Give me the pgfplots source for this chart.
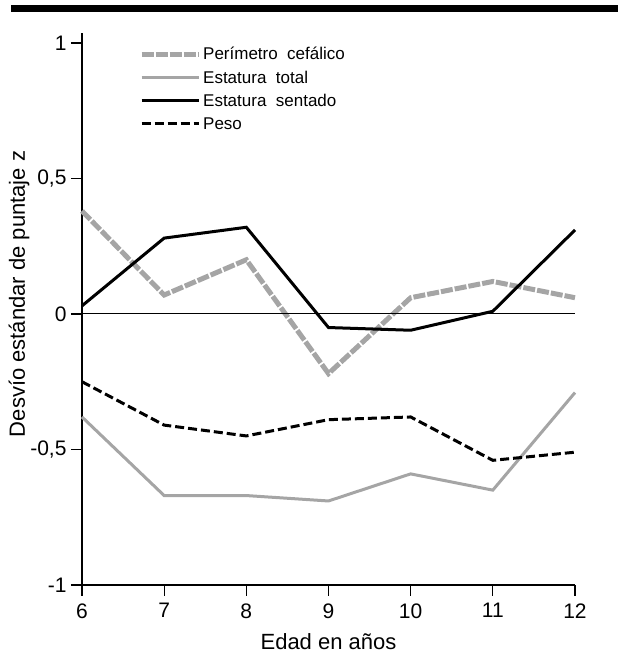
\documentclass[border=0pt]{standalone}
\usepackage{pgfplots}
\pgfplotsset{compat=1.18}
\usepackage{fontspec}
\setmainfont{Liberation Sans}
\definecolor{lgray}{RGB}{165,165,165}
\begin{document}
\begin{tikzpicture}[x=1pt,y=1pt]
\begin{axis}[
  scale only axis,
  width=493pt, height=542pt,
  xmin=6, xmax=12, ymin=-1, ymax=1,
  axis x line*=bottom, axis y line*=left,
  axis line style={line width=1.3pt},
  clip=false,
  xtick={6,7,8,9,10,11,12},
  ytick={-1,-0.5,0,0.5,1},
  yticklabels={{-1},{-0,5},{0},{0,5},{1}},
  tick style={black, line width=1.3pt},
  tick align=outside,
  major tick length=11pt,
  /pgf/number format/assume math mode=true,
  tick label style={font=\fontsize{21}{24}\selectfont},
  xticklabel style={yshift=-4pt},
  yticklabel style={xshift=-1pt},
  xlabel={Edad en años},
  ylabel={Desvío estándar de puntaje z},
  label style={font=\fontsize{22}{24}\selectfont},
  xlabel style={yshift=-8pt},
  ylabel style={yshift=-6pt, xshift=20pt},
  legend style={draw=none, fill=none, at={(0.1095,1.0)}, anchor=north west,
    font=\fontsize{17}{20}\selectfont, row sep=5.5pt},
  legend cell align=left,
  legend image code/.code={\draw[#1] (0pt,0pt) -- (57pt,0pt);},
]
\addplot[lgray, line width=5pt, dash pattern=on 12pt off 2pt] coordinates {
(6,0.38) (7,0.07) (8,0.20) (9,-0.22) (10,0.06) (11,0.12) (12,0.06)};
\addlegendentry{Perímetro\ \ cefálico}
\addplot[lgray, line width=3pt] coordinates {
(6,-0.38) (7,-0.67) (8,-0.67) (9,-0.69) (10,-0.59) (11,-0.65) (12,-0.29)};
\addlegendentry{Estatura\ \ total}
\addplot[black, line width=3pt] coordinates {
(6,0.03) (7,0.28) (8,0.32) (9,-0.05) (10,-0.06) (11,0.01) (12,0.31)};
\addlegendentry{Estatura\ \ sentado}
\addplot[black, line width=3pt, dash pattern=on 9pt off 4pt] coordinates {
(6,-0.25) (7,-0.41) (8,-0.45) (9,-0.39) (10,-0.38) (11,-0.54) (12,-0.51)};
\addlegendentry{Peso}
\draw[black, line width=1pt] (axis cs:6,0) -- (axis cs:12,0);
\draw[black, line width=1.3pt] (axis cs:5.88,-1) -- (axis cs:6,-1);
\draw[black, line width=1.3pt] (axis cs:6,1) -- (axis cs:6,1.035);
\fill[black] (rel axis cs:-0.144,1.0572) rectangle (rel axis cs:1.0872,1.0701);
\useasboundingbox (rel axis cs:-0.1663,-0.1347) rectangle (rel axis cs:1.0872,1.0793);
\end{axis}
\end{tikzpicture}
\end{document}
